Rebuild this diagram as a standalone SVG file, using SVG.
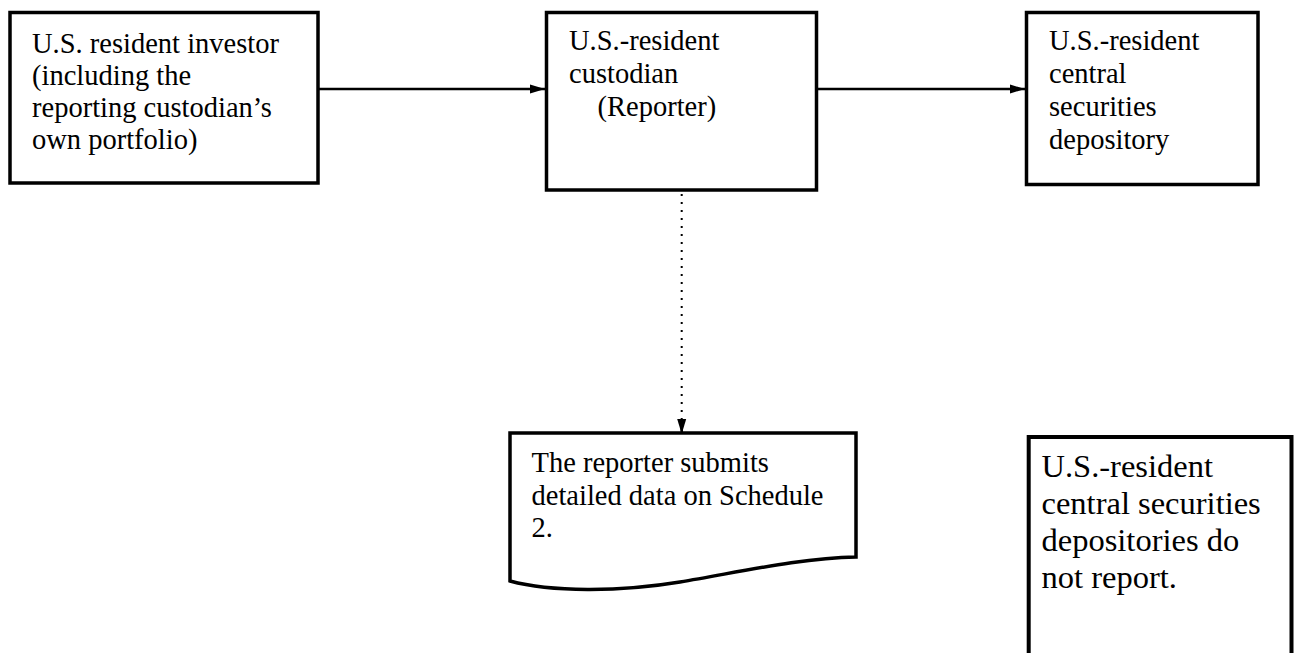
<svg xmlns="http://www.w3.org/2000/svg" width="1295" height="653" viewBox="0 0 1295 653">
<style>
.box{fill:#fff;stroke:#000;stroke-width:3.5}
.t{font-family:"Liberation Serif","Times New Roman",serif;font-size:28.5px;fill:#000}
.t2{font-family:"Liberation Serif","Times New Roman",serif;font-size:32.5px;fill:#000}
.con{stroke:#000;stroke-width:2.5;fill:none}
.dot{stroke:#000;stroke-width:2;fill:none;stroke-dasharray:2 6}
</style>
<defs>
<marker id="ah" markerWidth="15" markerHeight="10" refX="15" refY="5" orient="auto" markerUnits="userSpaceOnUse">
<path d="M0,0.5 L15,5 L0,9.5 Z" fill="#000"/>
</marker>
</defs>
<rect width="1295" height="653" fill="#fff"/>
<g id="connectors">
<line class="con" x1="318" y1="89" x2="545" y2="89" marker-end="url(#ah)"/>
<line class="con" x1="816" y1="89" x2="1025" y2="89" marker-end="url(#ah)"/>
<line class="dot" x1="681.7" y1="194" x2="681.7" y2="422"/>
<line class="con" x1="681.7" y1="420" x2="681.7" y2="434" marker-end="url(#ah)"/>
</g>
<g id="investor">
<rect class="box" x="10" y="12.5" width="308" height="170.5"/>
<text class="t"><tspan x="32" y="53">U.S. resident investor</tspan><tspan x="32" y="85">(including the</tspan><tspan x="32" y="117">reporting custodian’s</tspan><tspan x="32" y="149">own portfolio)</tspan></text>
</g>
<g id="custodian">
<rect class="box" x="546.5" y="12.5" width="270" height="177.5"/>
<text class="t"><tspan x="569" y="50">U.S.-resident</tspan><tspan x="569" y="83">custodian</tspan><tspan x="597.5" y="116">(Reporter)</tspan></text>
</g>
<g id="csd">
<rect class="box" x="1026.5" y="12.5" width="231.5" height="172"/>
<text class="t"><tspan x="1049" y="50">U.S.-resident</tspan><tspan x="1049" y="83">central</tspan><tspan x="1049" y="116">securities</tspan><tspan x="1049" y="149">depository</tspan></text>
</g>
<g id="schedule">
<path class="box" d="M510,433 H856 V557 C800,558 740,572 680,582 C620,592 550,592 510,581 Z"/>
<text class="t"><tspan x="531.5" y="472">The reporter submits</tspan><tspan x="531.5" y="504.5">detailed data on Schedule</tspan><tspan x="531.5" y="537">2.</tspan></text>
</g>
<g id="note">
<rect class="box" x="1028.7" y="437" width="262.8" height="240" style="stroke-width:4"/>
<text class="t2"><tspan x="1041.5" y="477">U.S.-resident</tspan><tspan x="1041.5" y="514">central securities</tspan><tspan x="1041.5" y="551">depositories do</tspan><tspan x="1041.5" y="588">not report.</tspan></text>
</g>
</svg>
